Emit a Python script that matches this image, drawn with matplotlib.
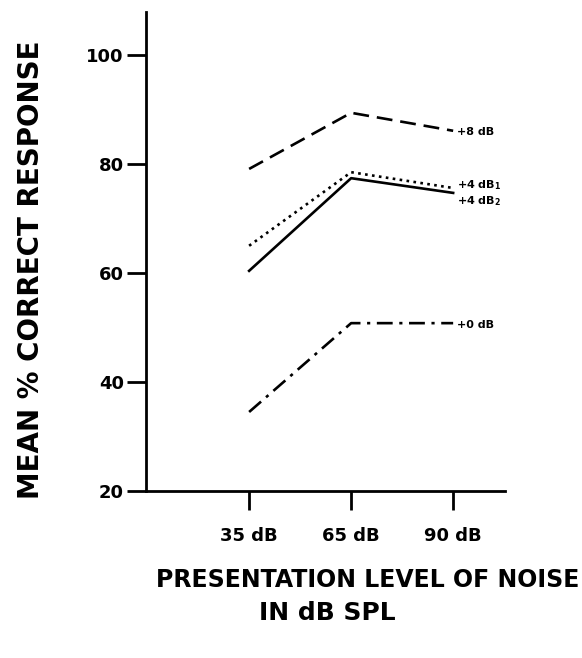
import numpy as np
import matplotlib.pyplot as plt

levels = ['35 dB', '65 dB', '90 dB']
snr_labels = ['+8 dB', '+4 dB$_{\\mathbf{1}}$', '+4 dB$_{\\mathbf{2}}$', '+0 dB']
plus8 = [79.1, 89.4, 86.1]
plus4_1 = [65.0, 78.5, 75.6]
plus4_2 = [60.4, 77.4, 74.7]
plus0 = [34.5, 50.8, 50.8]

plt.rcParams['font.family'] = ['DejaVu Sans']

fig = plt.figure(figsize=(5.82, 6.58), dpi=100)
ax = fig.add_axes([0.251, 0.2538, 0.617, 0.728])

x = np.arange(1, len(levels) + 1)
lw = 1.9
ax.plot(x, plus8, color='black', lw=lw, dashes=(6, 3))
ax.plot(x, plus4_1, color='black', lw=lw, ls=':')
ax.plot(x, plus4_2, color='black', lw=lw, ls='-')
ax.plot(x, plus0, color='black', lw=lw, dashes=(6, 2.5, 1.2, 2.5))

# labels at line ends
offsets = [(3, -1), (3, 2), (3, -6), (3, -1)]
for vals, lab, off in zip([plus8, plus4_1, plus4_2, plus0], snr_labels, offsets):
    ax.annotate(lab, xy=(x[-1], vals[-1]), xytext=off, textcoords='offset points',
                fontsize=8, fontweight='bold', va='center', ha='left')

ax.set_xlim(-0.01, 3.51)
ax.set_ylim(20, 107.9)
ax.set_xticks(x)
ax.set_xticklabels(levels)
ax.set_yticks([20, 40, 60, 80, 100])

for s in ['top', 'right']:
    ax.spines[s].set_visible(False)
for s in ['left', 'bottom']:
    ax.spines[s].set_linewidth(2)

ax.tick_params(axis='both', width=2, length=14, labelsize=13)
for t in ax.get_xticklabels() + ax.get_yticklabels():
    t.set_fontweight('bold')
ax.tick_params(axis='y', pad=2)
ax.tick_params(axis='x', pad=12)

fig.text(0.053, 0.59, 'MEAN % CORRECT RESPONSE', rotation=90, ha='center', va='center',
         fontsize=20, fontweight='heavy')
fig.text(0.631, 0.118, 'PRESENTATION LEVEL OF NOISE', ha='center', va='center',
         fontsize=17, fontweight='bold')
fig.text(0.562, 0.068, 'IN dB SPL', ha='center', va='center',
         fontsize=18, fontweight='bold')

plt.savefig('out.png', dpi=100)
